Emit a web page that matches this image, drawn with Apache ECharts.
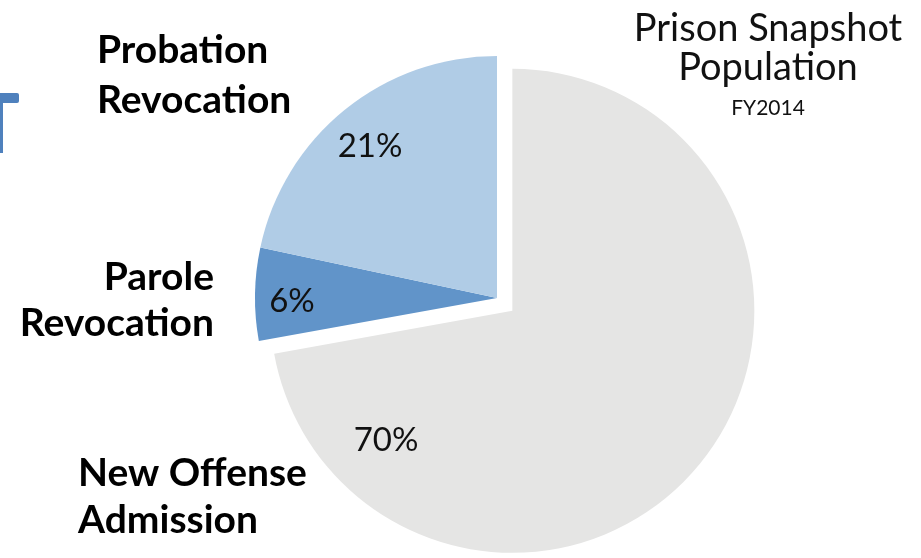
<!DOCTYPE html>
<html>
<head>
<meta charset="utf-8">
<script src="https://cdn.jsdelivr.net/npm/echarts@6/dist/echarts.min.js"></script>
<style>
  html, body { margin: 0; padding: 0; background: #ffffff; }
  #chart { width: 921px; height: 558px; }
</style>
</head>
<body>
<div id="chart"></div>
<script>
// Admission type shares of the FY2014 prison snapshot population (percent)
const categories = ['New Offense Admission', 'Parole Revocation', 'Probation Revocation'];
const nameLines = ['New Offense\nAdmission', 'Parole\nRevocation', 'Probation\nRevocation'];
const shares = [70, 6, 21];
const sliceColors = ['#e5e5e4', '#6194c9', '#b0cce6'];

const titleLines = 'Prison Snapshot\nPopulation';
const subtitle = 'FY2014';

// where each label sits on the canvas (index order follows categories)
const pctLabelPos = [[386, 440.5, 'center'], [292, 301, 'center'], [370, 146.5, 'center']];
const nameLabelPos = [[78, 497, 'left', 47], [214, 300, 'right', 46], [97, 75, 'left', 50]];

const FONT = 'Lato, "Open Sans", sans-serif';
const PIE_CENTER = [497, 298];
const PIE_RADIUS = 242;

const chart = echarts.init(document.getElementById('chart'), null, { renderer: 'canvas' });

// visible slices; the new-offense slice is pulled out of the pie
const sliceData = categories.map((name, i) => ({
  name: name,
  value: shares[i],
  selected: i === 0,
  itemStyle: { color: sliceColors[i] }
}));

// invisible copies of the slices that only carry the text labels
const pctData = categories.map((name, i) => ({
  name: name,
  value: shares[i],
  itemStyle: { color: 'rgba(0,0,0,0)' }
}));

const nameData = categories.map((name, i) => ({
  name: name,
  value: shares[i],
  itemStyle: { color: 'rgba(0,0,0,0)' },
  label: { lineHeight: nameLabelPos[i][3] }
}));

const basePie = {
  type: 'pie',
  center: PIE_CENTER,
  radius: PIE_RADIUS,
  startAngle: 90,
  clockwise: true,
  silent: true,
  labelLine: { show: false },
  emphasis: { disabled: true }
};

chart.setOption({
  animation: false,
  backgroundColor: '#ffffff',
  title: {
    text: titleLines,
    subtext: subtitle,
    left: 763,
    top: 4,
    textAlign: 'center',
    itemGap: 9,
    textStyle: {
      fontFamily: FONT,
      fontSize: 38,
      fontWeight: 'normal',
      color: '#111111',
      lineHeight: 39
    },
    subtextStyle: {
      fontFamily: FONT,
      fontSize: 21,
      color: '#111111',
      lineHeight: 24
    }
  },
  graphic: [
    { type: 'rect', shape: { x: 0, y: 93, width: 19, height: 10, r: 2 }, style: { fill: '#4f81bd' } },
    { type: 'rect', shape: { x: 0, y: 93, width: 3, height: 60 }, style: { fill: '#4f81bd' } }
  ],
  series: [
    Object.assign({}, basePie, {
      name: 'slices',
      z: 2,
      selectedMode: 'single',
      selectedOffset: 20,
      data: sliceData,
      label: { show: false }
    }),
    Object.assign({}, basePie, {
      name: 'shares',
      z: 3,
      data: pctData,
      label: {
        show: true,
        position: 'inside',
        formatter: '{c}%',
        fontFamily: FONT,
        fontSize: 33,
        color: '#111111',
        overflow: 'none'
      },
      labelLayout: function (p) {
        const pos = pctLabelPos[p.dataIndex];
        return { x: pos[0], y: pos[1], align: pos[2], verticalAlign: 'middle' };
      }
    }),
    Object.assign({}, basePie, {
      name: 'names',
      z: 3,
      data: nameData,
      label: {
        show: true,
        position: 'outside',
        formatter: function (p) { return nameLines[p.dataIndex]; },
        fontFamily: FONT,
        fontSize: 39,
        fontWeight: 'bold',
        color: '#000000',
        overflow: 'none'
      },
      labelLayout: function (p) {
        const pos = nameLabelPos[p.dataIndex];
        return { x: pos[0], y: pos[1], align: pos[2], verticalAlign: 'middle' };
      }
    })
  ]
});
</script>
</body>
</html>
